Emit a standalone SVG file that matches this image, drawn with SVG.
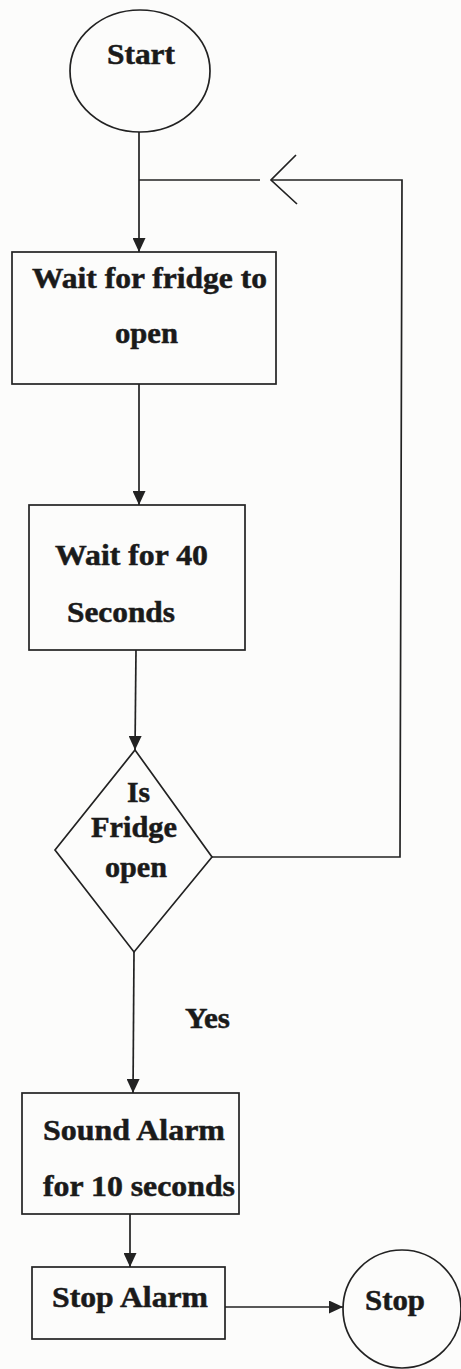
<svg xmlns="http://www.w3.org/2000/svg" width="461" height="1369" viewBox="0 0 461 1369">
  <style>
    .shape { fill: none; stroke: #222; stroke-width: 1.7; }
    .line { fill: none; stroke: #222; stroke-width: 1.7; }
    .lbl { font-family: "Liberation Serif", "DejaVu Serif", "Times New Roman", Times, serif; font-weight: bold; font-size: 29px; fill: #1a1a1a; stroke: #1a1a1a; stroke-width: 0.5; }
  </style>
  <defs>
    <marker id="arrow" markerUnits="userSpaceOnUse" markerWidth="14" markerHeight="13" viewBox="0 0 14 13" refX="14" refY="6.5" orient="auto">
      <path d="M0,0 L14,6.5 L0,13 Z" fill="#222"/>
    </marker>
  </defs>
  <rect x="0" y="0" width="461" height="1369" fill="#fcfcfb"/>

  <g id="connectors">
    <line class="line" x1="139" y1="132" x2="139" y2="252" marker-end="url(#arrow)"/>
    <polyline class="line" points="212,857 400,857 402,180 271,180"/>
    <line class="line" x1="260" y1="180" x2="139" y2="180"/>
    <polyline class="line" points="296,155 271,180 297,204"/>
    <line class="line" x1="139" y1="384" x2="139" y2="505" marker-end="url(#arrow)"/>
    <line class="line" x1="136" y1="650" x2="135" y2="750" marker-end="url(#arrow)"/>
    <line class="line" x1="134" y1="952" x2="133" y2="1093" marker-end="url(#arrow)"/>
    <line class="line" x1="130" y1="1214" x2="130" y2="1267" marker-end="url(#arrow)"/>
    <line class="line" x1="225" y1="1307" x2="343" y2="1307" marker-end="url(#arrow)"/>
    <text class="lbl" x="185" y="1028" textLength="45" lengthAdjust="spacingAndGlyphs">Yes</text>
  </g>

  <g id="start">
    <ellipse class="shape" cx="140" cy="71" rx="70" ry="61"/>
    <text class="lbl" x="107" y="64" textLength="68" lengthAdjust="spacingAndGlyphs">Start</text>
  </g>

  <g id="wait-open">
    <rect class="shape" x="12" y="252" width="264" height="132"/>
    <text class="lbl" x="32" y="288" textLength="235" lengthAdjust="spacingAndGlyphs">Wait for fridge to</text>
    <text class="lbl" x="115" y="343" textLength="63" lengthAdjust="spacingAndGlyphs">open</text>
  </g>

  <g id="wait-40">
    <rect class="shape" x="29" y="505" width="216" height="145"/>
    <text class="lbl" x="55" y="565" textLength="153" lengthAdjust="spacingAndGlyphs">Wait for 40</text>
    <text class="lbl" x="67" y="622" textLength="108" lengthAdjust="spacingAndGlyphs">Seconds</text>
  </g>

  <g id="decision">
    <polygon class="shape" points="135,750 212,857 134,952 55,850"/>
    <text class="lbl" x="127" y="802" textLength="23" lengthAdjust="spacingAndGlyphs">Is</text>
    <text class="lbl" x="91" y="837" textLength="86" lengthAdjust="spacingAndGlyphs">Fridge</text>
    <text class="lbl" x="105" y="877" textLength="62" lengthAdjust="spacingAndGlyphs">open</text>
  </g>

  <g id="sound-alarm">
    <rect class="shape" x="22" y="1093" width="217" height="121"/>
    <text class="lbl" x="43" y="1140" textLength="182" lengthAdjust="spacingAndGlyphs">Sound Alarm</text>
    <text class="lbl" x="43" y="1196" textLength="192" lengthAdjust="spacingAndGlyphs">for 10 seconds</text>
  </g>

  <g id="stop-alarm">
    <rect class="shape" x="32" y="1267" width="193" height="72"/>
    <text class="lbl" x="52" y="1307" textLength="156" lengthAdjust="spacingAndGlyphs">Stop Alarm</text>
  </g>

  <g id="stop">
    <circle class="shape" cx="402" cy="1309" r="59"/>
    <text class="lbl" x="365" y="1310" textLength="60" lengthAdjust="spacingAndGlyphs">Stop</text>
  </g>
</svg>
